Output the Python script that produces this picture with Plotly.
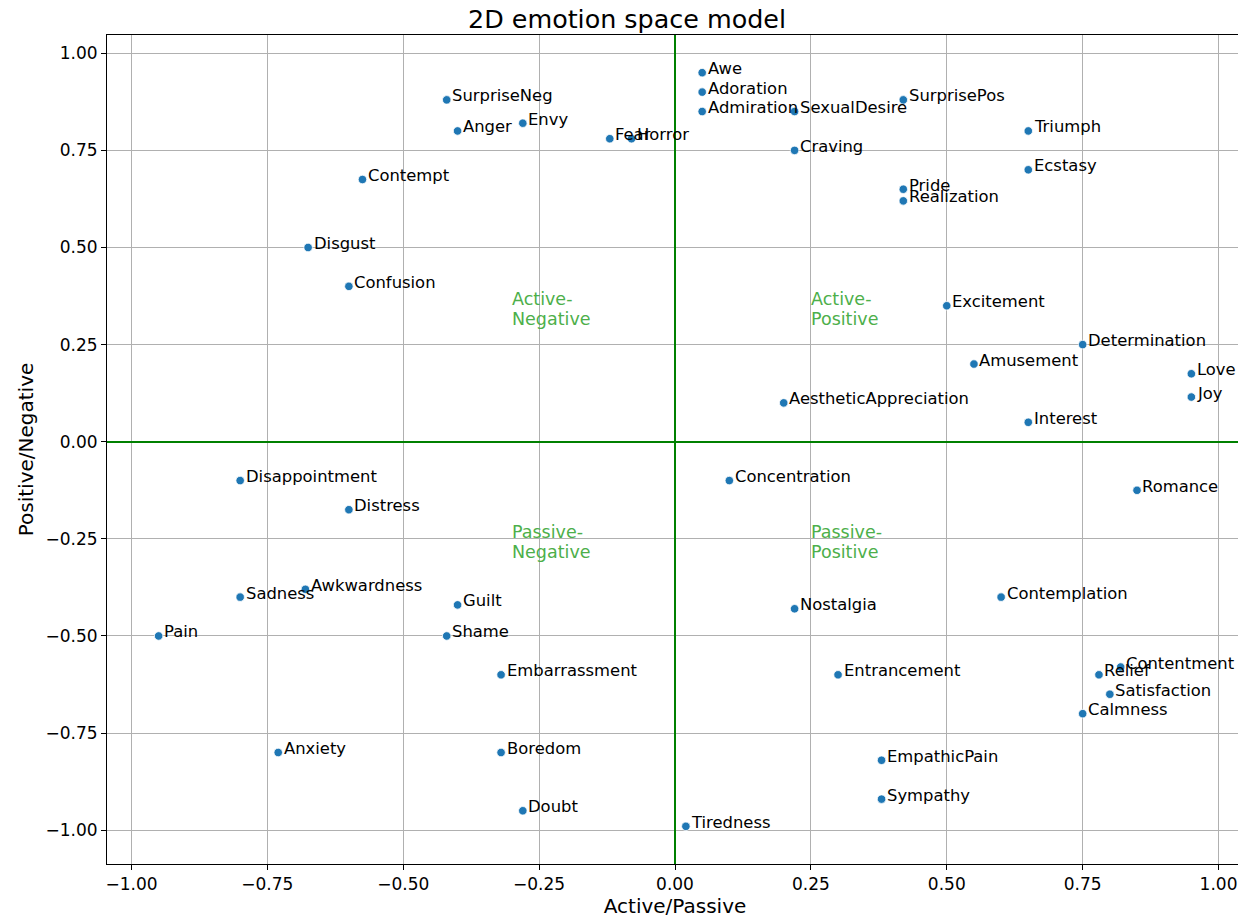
import plotly.graph_objects as go

emotions = ["Awe", "Adoration", "Admiration", "SexualDesire", "SurprisePos", "Triumph", "Ecstasy",
            "Craving", "Pride", "Realization", "SurpriseNeg", "Anger", "Envy", "Fear", "Horror",
            "Contempt", "Disgust", "Confusion", "Excitement", "Determination", "Amusement", "Love",
            "Joy", "AestheticAppreciation", "Interest", "Disappointment", "Concentration", "Romance",
            "Distress", "Awkwardness", "Sadness", "Guilt", "Nostalgia", "Contemplation", "Pain",
            "Shame", "Embarrassment", "Entrancement", "Contentment", "Relief", "Satisfaction",
            "Calmness", "Anxiety", "Boredom", "EmpathicPain", "Sympathy", "Doubt", "Tiredness"]
active_passive = [0.05, 0.05, 0.05, 0.22, 0.42, 0.65, 0.65,
                  0.22, 0.42, 0.42, -0.42, -0.40, -0.28, -0.12, -0.08,
                  -0.575, -0.675, -0.60, 0.50, 0.75, 0.55, 0.95,
                  0.95, 0.20, 0.65, -0.80, 0.10, 0.85,
                  -0.60, -0.68, -0.80, -0.40, 0.22, 0.60, -0.95,
                  -0.42, -0.32, 0.30, 0.82, 0.78, 0.80,
                  0.75, -0.73, -0.32, 0.38, 0.38, -0.28, 0.02]
positive_negative = [0.95, 0.90, 0.85, 0.85, 0.88, 0.80, 0.70,
                     0.75, 0.65, 0.62, 0.88, 0.80, 0.82, 0.78, 0.78,
                     0.675, 0.50, 0.40, 0.35, 0.25, 0.20, 0.175,
                     0.115, 0.10, 0.05, -0.10, -0.10, -0.125,
                     -0.175, -0.38, -0.40, -0.42, -0.43, -0.40, -0.50,
                     -0.50, -0.60, -0.60, -0.58, -0.60, -0.65,
                     -0.70, -0.80, -0.80, -0.82, -0.92, -0.95, -0.99]

quadrant_top = ["Active-", "Active-", "Passive-", "Passive-"]
quadrant_bottom = ["Negative", "Positive", "Negative", "Positive"]
quadrant_x = [-0.30, 0.25, -0.30, 0.25]
quadrant_y = [0.30, 0.30, -0.30, -0.30]

FONT = "DejaVu Sans"

fig = go.Figure()
fig.add_trace(go.Scatter(
    x=active_passive, y=positive_negative, mode="markers",
    marker=dict(size=8.5, color="#1f77b4", line=dict(color="white", width=0.8)),
    showlegend=False, hoverinfo="text", text=emotions,
))

annotations = []
for name, x, y in zip(emotions, active_passive, positive_negative):
    annotations.append(dict(x=x + 0.01, y=y, text=name, showarrow=False,
                            xanchor="left", yanchor="middle", xshift=-2, yshift=4,
                            font=dict(family=FONT, size=16.4, color="black")))
for top, bot, x, y in zip(quadrant_top, quadrant_bottom, quadrant_x, quadrant_y):
    annotations.append(dict(x=x, y=y, text=bot, showarrow=False, align="left",
                            xanchor="left", yanchor="bottom", xshift=-2, yshift=-6,
                            font=dict(family=FONT, size=17.5, color="#4daf4a")))
    annotations.append(dict(x=x, y=y, text=top, showarrow=False, align="left",
                            xanchor="left", yanchor="bottom", xshift=-2, yshift=14,
                            font=dict(family=FONT, size=17.5, color="#4daf4a")))

axis_common = dict(
    showgrid=True, gridcolor="#b0b0b0", gridwidth=0.8,
    zeroline=True, zerolinecolor="green", zerolinewidth=1.6,
    showline=True, linecolor="black", linewidth=1, mirror=True,
    ticks="outside", ticklen=5, tickcolor="black", tickwidth=1,
    tickformat=".2f", dtick=0.25, automargin=False,
    tickfont=dict(family=FONT, size=17, color="black"),
)

# The page body adds an 8px offset; size the figure so the plot lands where the reference has it.
fig.update_layout(
    width=1238, height=913,
    margin=dict(l=99, r=3, t=27, b=57),
    plot_bgcolor="white", paper_bgcolor="white",
    title=dict(text="2D emotion space model", x=0.5, xanchor="center", y=0.988, yanchor="middle",
               font=dict(family=FONT, size=25.4, color="black")),
    xaxis=dict(range=[-1.045, 1.045], tick0=-1,
               title=dict(text="Active/Passive", font=dict(family=FONT, size=20, color="black"), standoff=4),
               **axis_common),
    yaxis=dict(range=[-1.087, 1.047], tick0=-1,
               title=dict(text="Positive/Negative", font=dict(family=FONT, size=20, color="black"), standoff=6),
               **axis_common),
    annotations=annotations,
    font=dict(family=FONT),
)

fig.write_html("out.html")
